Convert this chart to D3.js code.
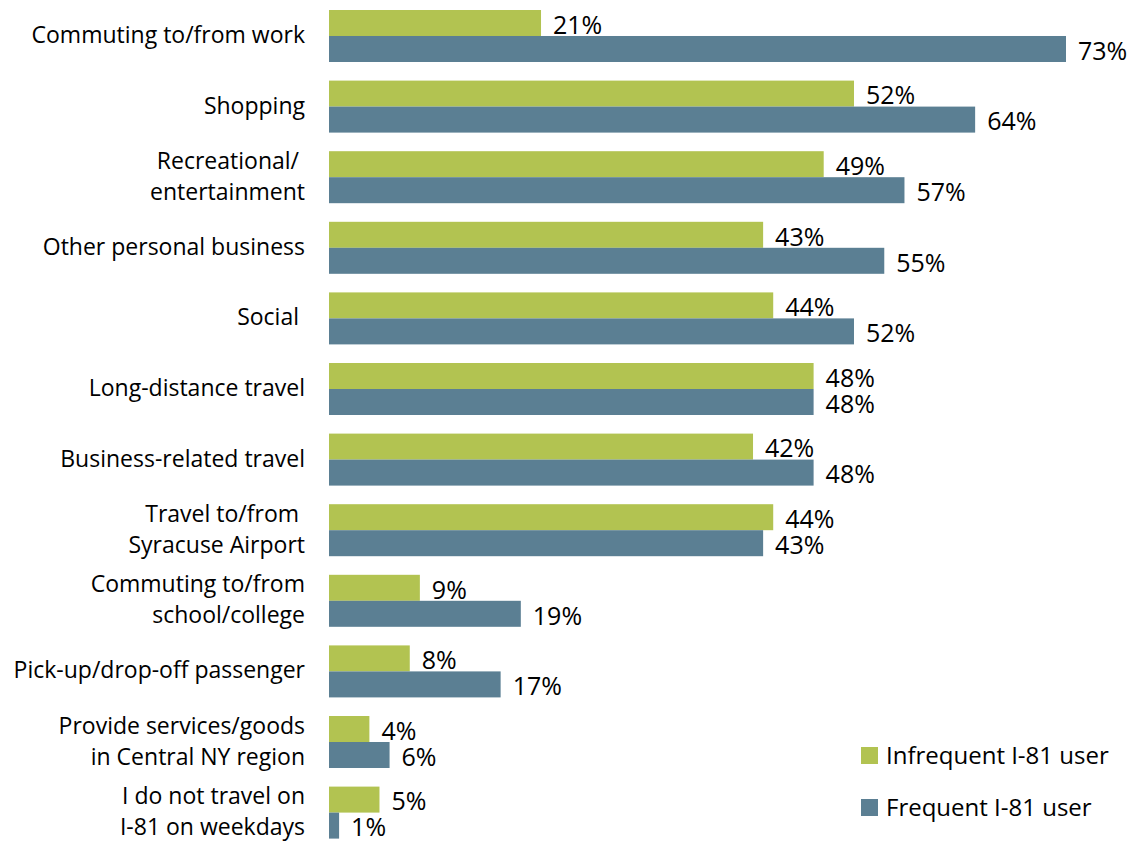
<html>
<head>
<script src="https://d3js.org/d3.v7.min.js"></script>
<style>
  body { margin: 0; background: #fff; }
  text { font-family: "Open Sans", Lato, sans-serif; fill: #000; }
</style>
</head>
<body>
<script>
var categories = [
  ["Commuting to/from work"],
  ["Shopping"],
  ["Recreational/ ", "entertainment"],
  ["Other personal business"],
  ["Social "],
  ["Long-distance travel"],
  ["Business-related travel"],
  ["Travel to/from ", "Syracuse Airport"],
  ["Commuting to/from", "school/college"],
  ["Pick-up/drop-off passenger"],
  ["Provide services/goods", "in Central NY region"],
  ["I do not travel on", "I-81 on weekdays"]
];
var infrequent = [21, 52, 49, 43, 44, 48, 42, 44, 9, 8, 4, 5];
var frequent = [73, 64, 57, 55, 52, 48, 48, 43, 19, 17, 6, 1];
var seriesNames = ["Infrequent I-81 user", "Frequent I-81 user"];
var seriesColors = ["#b2c351", "#5b7f93"];

var width = 1143, height = 844;
var svg = d3.select("body").append("svg").attr("width", width).attr("height", height);

var keys = categories.map(function(c, i){ return i; });
var y = d3.scaleBand().domain(keys).range([0.7, 847.9]).paddingInner(0.2635).paddingOuter(0.1317);
var ySub = d3.scaleBand().domain([0, 1]).range([0, y.bandwidth()]);
var x = d3.scaleLinear().domain([0, 73]).range([329, 1066]);

var rows = keys.map(function(i){ return {i: i, vals: [infrequent[i], frequent[i]]}; });

var groups = svg.selectAll("g.row").data(rows).enter().append("g")
  .attr("class", "row")
  .attr("transform", function(d){ return "translate(0," + y(d.i) + ")"; });

groups.selectAll("rect").data(function(d){ return d.vals; }).enter().append("rect")
  .attr("x", x(0))
  .attr("y", function(v, j){ return ySub(j); })
  .attr("width", function(v){ return x(v) - x(0); })
  .attr("height", ySub.bandwidth())
  .style("fill", function(v, j){ return seriesColors[j]; });

groups.selectAll("text.val").data(function(d){ return d.vals; }).enter().append("text")
  .attr("class", "val")
  .attr("x", function(v){ return x(v) + 12; })
  .attr("y", function(v, j){ return ySub(j) + ySub.bandwidth() / 2 + 2; })
  .attr("dy", "0.35em")
  .style("font-size", "25px")
  .text(function(v){ return v + "%"; });

groups.each(function(d){
  var lines = categories[d.i];
  var g = d3.select(this);
  var mid = y.bandwidth() / 2 - 1;
  lines.forEach(function(t, k){
    g.append("text")
      .attr("x", 305)
      .attr("y", mid + (k - (lines.length - 1) / 2) * 31)
      .attr("dy", "0.35em")
      .attr("text-anchor", "end")
      .style("white-space", "pre")
      .style("font-size", "23px")
      .text(t);
  });
});

var legend = svg.selectAll("g.legend").data(seriesNames).enter().append("g")
  .attr("class", "legend")
  .attr("transform", function(d, i){ return "translate(861," + (756 + i * 52) + ")"; });
legend.append("rect").attr("x", 0).attr("y", -9).attr("width", 17).attr("height", 17)
  .style("fill", function(d, i){ return seriesColors[i]; });
legend.append("text").attr("x", 25).attr("y", 0).attr("dy", "0.35em")
  .style("font-size", "24px")
  .text(function(d){ return d; });
</script>
</body>
</html>
